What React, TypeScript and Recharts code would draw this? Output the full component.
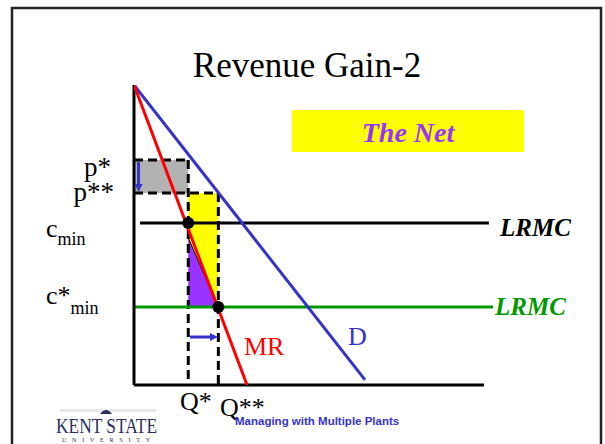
import {
  ComposedChart,
  Line,
  Area,
  XAxis,
  YAxis,
  ReferenceLine,
  ReferenceArea,
  ReferenceDot,
} from "recharts"

// curves: quantity / price pairs
const demandQ = [0, 66]
const demandP = [100, 1.7]
const mrQ = [0, 32.3]
const mrP = [100, 0]

// key levels
const prices = { pStar: 75, pStar2: 64 }
const costs = { cMin: 54, cStarMin: 26 }
const quantities = { qStar: 15.5, qStar2: 24.1 }

// purple wedge (loss on the extra units), left edge top + right corner
const wedgeQ = [15.5, 24.1]
const wedgeP = [49, 26]

const demand = demandQ.map((q, i) => ({ q, p: demandP[i] }))
const mr = mrQ.map((q, i) => ({ q, p: mrP[i] }))
const wedge = wedgeQ.map((q, i) => ({ q, p: wedgeP[i] }))

const serif = "'Liberation Serif', 'Times New Roman', serif"
const BLUE = "#3333CC"
const dash = "9 5"

const Arrow = (props) => {
  const { x1, y1, x2, y2, stroke } = props
  const ang = Math.atan2(y2 - y1, x2 - x1)
  const len = 8
  const w = 4
  const bx = x2 - len * Math.cos(ang)
  const by = y2 - len * Math.sin(ang)
  const px = -Math.sin(ang) * w
  const py = Math.cos(ang) * w
  return (
    <g>
      <line x1={x1} y1={y1} x2={bx} y2={by} stroke={stroke} strokeWidth={3} />
      <polygon points={`${x2},${y2} ${bx + px},${by + py} ${bx - px},${by - py}`} fill={stroke} />
    </g>
  )
}

export default function App() {
  const { qStar, qStar2 } = quantities
  const { pStar, pStar2 } = prices
  const { cMin, cStarMin } = costs
  return (
    <div style={{ position: "absolute", left: 0, top: 0, background: "#fff" }}>
      <ComposedChart
        width={605}
        height={444}
        margin={{ left: 134, right: 16, top: 85, bottom: 59 }}
      >
        <XAxis type="number" dataKey="q" domain={[0, 130]} hide allowDataOverflow />
        <YAxis type="number" dataKey="p" domain={[0, 100]} hide allowDataOverflow />

        <ReferenceArea x1={0} x2={qStar} y1={pStar2} y2={pStar} fill="#B2B2B2" fillOpacity={1} stroke="none" ifOverflow="visible" />
        <ReferenceArea x1={qStar} x2={qStar2} y1={cStarMin} y2={pStar2} fill="#FFFF00" fillOpacity={1} stroke="none" ifOverflow="visible" />
        <Area
          data={wedge}
          dataKey="p"
          type="linear"
          baseValue={cStarMin}
          fill="#9933FF"
          fillOpacity={1}
          stroke="#000"
          strokeWidth={1}
          isAnimationActive={false}
        />

        <ReferenceLine segment={[{ x: 0, y: pStar }, { x: qStar, y: pStar }]} stroke="#000" strokeWidth={3} strokeDasharray={dash} ifOverflow="visible" />
        <ReferenceLine segment={[{ x: 0, y: pStar2 }, { x: qStar2, y: pStar2 }]} stroke="#000" strokeWidth={3} strokeDasharray={dash} ifOverflow="visible" />
        <ReferenceLine segment={[{ x: qStar, y: pStar }, { x: qStar, y: 0 }]} stroke="#000" strokeWidth={3} strokeDasharray={dash} ifOverflow="visible" />
        <ReferenceLine segment={[{ x: qStar2, y: pStar2 }, { x: qStar2, y: 0 }]} stroke="#000" strokeWidth={3} strokeDasharray={dash} ifOverflow="visible" />

        <ReferenceLine segment={[{ x: 1.7, y: cMin }, { x: 101.4, y: cMin }]} stroke="#000" strokeWidth={3} ifOverflow="visible" />
        <ReferenceLine segment={[{ x: 0, y: cStarMin }, { x: 102.6, y: cStarMin }]} stroke="#009900" strokeWidth={3} ifOverflow="visible" />

        {/* axes */}
        <ReferenceLine segment={[{ x: 0, y: 100 }, { x: 0, y: 0 }]} stroke="#000" strokeWidth={3} ifOverflow="visible" />
        <ReferenceLine segment={[{ x: 0, y: 0 }, { x: 100, y: 0 }]} stroke="#000" strokeWidth={3} ifOverflow="visible" />

        <Line data={demand} dataKey="p" type="linear" stroke={BLUE} strokeWidth={3} dot={false} isAnimationActive={false} />
        <Line data={mr} dataKey="p" type="linear" stroke="#FF0000" strokeWidth={3} dot={false} isAnimationActive={false} />

        <ReferenceDot x={qStar} y={cMin} r={6} fill="#000" stroke="none" ifOverflow="visible" />
        <ReferenceDot x={qStar2} y={cStarMin} r={6} fill="#000" stroke="none" ifOverflow="visible" />

        <ReferenceLine segment={[{ x: 1.3, y: 74.3 }, { x: 1.3, y: 64.3 }]} stroke={BLUE} shape={<Arrow stroke={BLUE} />} ifOverflow="visible" />
        <ReferenceLine segment={[{ x: 16, y: 16 }, { x: 24, y: 16 }]} stroke={BLUE} shape={<Arrow stroke={BLUE} />} ifOverflow="visible" />

        {/* slide decoration */}
        <rect x={12} y={8} width={589} height={460} fill="none" stroke="#222" strokeWidth={2.5} />
        <text x={307} y={77} textAnchor="middle" fontFamily={serif} fontSize={35} fill="#000">Revenue Gain-2</text>
        <rect x={292} y={110} width={232} height={42} fill="#FFFF00" />
        <text x={408} y={142} textAnchor="middle" fontFamily={serif} fontSize={28} fontWeight="bold" fontStyle="italic" fill="#9933FF">The Net</text>

        <text x={111} y={176} textAnchor="end" fontFamily={serif} fontSize={27} fill="#000">p*</text>
        <text x={114} y={201} textAnchor="end" fontFamily={serif} fontSize={27} fill="#000">p**</text>
        <text x={46} y={237} fontFamily={serif} fontSize={26} fill="#000">c<tspan fontSize={18} dy={8}>min</tspan></text>
        <text x={46} y={304} fontFamily={serif} fontSize={26} fill="#000">c*<tspan fontSize={18} dy={10}>min</tspan></text>

        <text x={500} y={236} fontFamily={serif} fontSize={25} fontWeight="bold" fontStyle="italic" fill="#000">LRMC</text>
        <text x={495} y={315} fontFamily={serif} fontSize={25} fontWeight="bold" fontStyle="italic" fill="#009900">LRMC</text>
        <text x={244} y={355} fontFamily={serif} fontSize={26} fill="#FF0000">MR</text>
        <text x={348} y={345} fontFamily={serif} fontSize={26} fill={BLUE}>D</text>
        <text x={180} y={410} fontFamily={serif} fontSize={26} fill="#000">Q*</text>
        <text x={220} y={416} fontFamily={serif} fontSize={26} fill="#000">Q**</text>

        <text x={235} y={425} fontFamily="'Liberation Sans', Arial, sans-serif" fontSize={11.5} fontWeight="bold" fill={BLUE}>Managing with Multiple Plants</text>

        <rect x={60} y={409} width={96} height={3} fill="#E6E6EE" />
        <path d="M100,414 q6,-8 12,0 z" fill="#2B2F5B" />
        <text x={56} y={433} fontFamily={serif} fontSize={21} fill="#2B2F5B" textLength={101} lengthAdjust="spacingAndGlyphs">KENT STATE</text>
        <text x={62} y={442} fontFamily={serif} fontSize={6} fill="#2B2F5B" textLength={88} lengthAdjust="spacing">UNIVERSITY</text>
      </ComposedChart>
    </div>
  )
}
